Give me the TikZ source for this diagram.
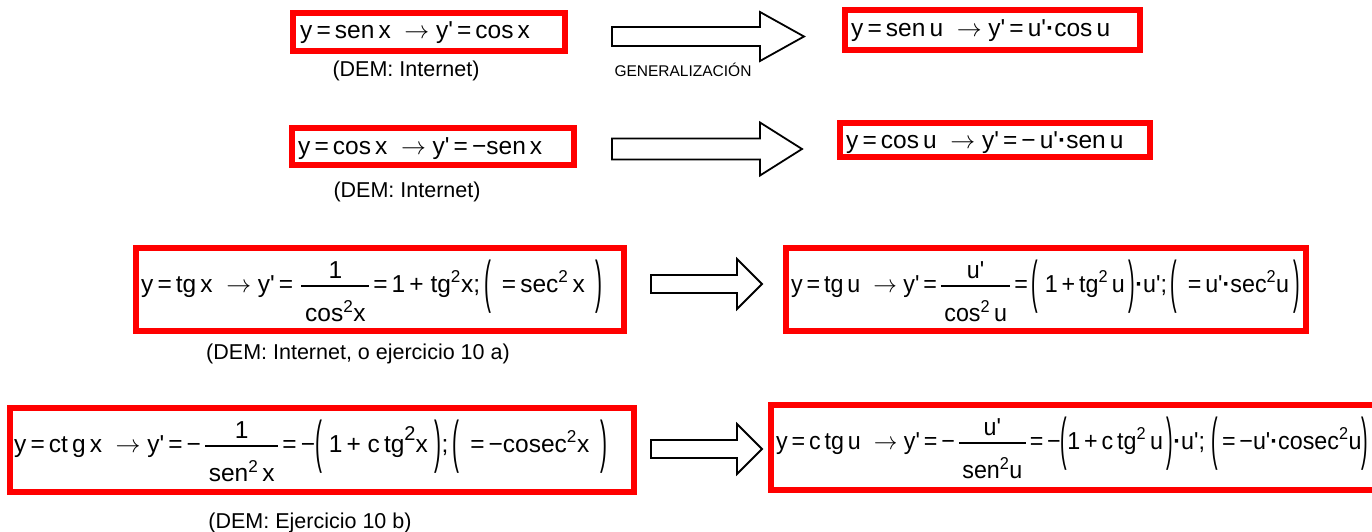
\documentclass[tikz,border=0pt]{standalone}
\usepackage{fontspec}
\setmainfont{Liberation Sans}
\usepackage{graphicx}
\usepackage{tikz}
\usetikzlibrary{positioning}
\newcommand\pr{\textquotesingle}
\newcommand\ig{\,=\,}
\newcommand\fl{\ \ $\rightarrow$\ }
\newcommand\pto{\textbf{·}}
\newcommand\cuad{\textsuperscript{2}}
\newcommand\lpar{\raisebox{-0.4em}{\scalebox{0.85}[2.34]{(}}}
\newcommand\rpar{\raisebox{-0.4em}{\scalebox{0.85}[2.34]{)}}}
\newcommand\fraccion[2]{%
  \begingroup
  \setbox0\hbox{#1}\setbox2\hbox{#2}%
  \dimen0=\ifdim\wd0>\wd2 \wd0\else\wd2\fi
  \advance\dimen0 by 0.3em
  \makebox[0pt][l]{\raisebox{0.22em}{\rule{\dimen0}{0.05em}}}%
  \makebox[0pt][l]{\raisebox{0.57em}{\makebox[\dimen0]{\box0}}}%
  \raisebox{-1.22em}{\makebox[\dimen0]{\box2}}%
  \endgroup}
\newcommand\flecha[6]{
  \draw[bloque] (#1,{#4-#5}) -- (#2,{#4-#5}) -- (#2,{#4-#6}) -- (#3,#4)
    -- (#2,{#4+#6}) -- (#2,{#4+#5}) -- (#1,{#4+#5}) -- cycle;
}

\begin{document}
\begin{tikzpicture}[x=1pt, y=-1pt,
    caja/.style={draw=red, line width=6pt, inner sep=0pt},
    formula/.style={font=\fontsize{24.5}{28}\selectfont, inner sep=0pt, anchor=base west},
    nota/.style={font=\fontsize{21.5}{26}\selectfont, inner sep=0pt, anchor=base},
    gen/.style={font=\fontsize{15.5}{18}\selectfont, inner sep=0pt, anchor=base},
    bloque/.style={draw=black, line width=1.8pt, fill=white, line join=miter}]
  \useasboundingbox (0,0) rectangle (1372,532);
  \clip (0,0) rectangle (1372,532);

  % fila 1: seno
  \node[caja, minimum width=272pt, minimum height=38pt] (c1) at (429,32) {};
  \node[formula] (f1) at (300,39) {y\ig sen\,x\fl y\pr\ig cos\,x};
  \node[nota] (d1) at (406,77) {(DEM: Internet)};
  \flecha{612}{760}{804}{36.5}{9.5}{24.5}
  \node[gen] (g1) at (683,77) {GENERALIZACIÓN};
  \node[caja, minimum width=295pt, minimum height=40pt] (c2) at (992.5,30) {};
  \node[formula] (f2) at (851,37) {y\ig sen\,u\fl y\pr\ig u\pr\pto cos\,u};

  % fila 2: coseno
  \node[caja, minimum width=282pt, minimum height=37pt] (c3) at (433,146.5) {};
  \node[formula] (f3) at (298,154) {y\ig cos\,x\fl y\pr\ig −sen\,x};
  \node[nota] (d3) at (407,197) {(DEM: Internet)};
  \flecha{612}{760}{802}{149}{10.5}{26.5}
  \node[caja, minimum width=310pt, minimum height=34pt] (c4) at (995,140) {};
  \node[formula] (f4) at (846,148) {y\ig cos\,u\fl y\pr\ig −\,u\pr\pto sen\,u};

  % fila 3: tangente
  \node[caja, minimum width=488pt, minimum height=83pt] (c5) at (380,289.5) {};
  \node[formula] (f5) at (141,292) {y\ig tg\,x\fl y\pr\ig\,\fraccion{1}{cos\cuad x}\ig 1\,+\ tg\cuad x;\,\lpar\ \ig sec\cuad\,x\ \,\rpar};
  \node[nota] (d5) at (358,359) {(DEM: Internet, o ejercicio 10 a)};
  \flecha{651}{737}{762}{284}{9}{25}
  \node[caja, minimum width=520pt, minimum height=83pt] (c6) at (1046,289.5) {};
  \node[formula] (f6) at (791,292) {\scalebox{0.95}[1]{y\ig tg\,u\fl y\pr\ig\fraccion{u\pr}{cos\cuad\,u}\ig\lpar\ 1\,+\,tg\cuad\,u\,\rpar\pto u\pr;\,\lpar\ \ig u\pr\pto sec\cuad u\,\rpar}};

  % fila 4: cotangente
  \node[caja, minimum width=624pt, minimum height=84pt] (c7) at (322,450) {};
  \node[formula] (f7) at (14,452) {y\ig ct\,g\,x\fl y\pr\ig −\,\fraccion{1}{sen\cuad\,x}\ig −\lpar\ 1\,+\ c\,tg\raisebox{0.45em}{\fontsize{20}{22}\selectfont 2}x\ \rpar;\,\lpar\ \ig −cosec\cuad x\ \,\rpar};
  \node[nota] (d7) at (310,528) {(DEM: Ejercicio 10 b)};
  \flecha{651}{737}{762}{449}{9}{25}
  \node[caja, minimum width=606pt, minimum height=85pt] (c8) at (1074,447.5) {};
  \node[formula] (f8) at (776,449) {\scalebox{0.95}[1]{y\ig c\,tg\,u\fl y\pr\ig −\,\fraccion{u\pr}{sen\cuad u}\ig −\lpar 1\,+\,c\,tg\cuad\,u\,\rpar\pto u\pr; \lpar\ig −u\pr\pto cosec\cuad u\rpar}};
\end{tikzpicture}
\end{document}
